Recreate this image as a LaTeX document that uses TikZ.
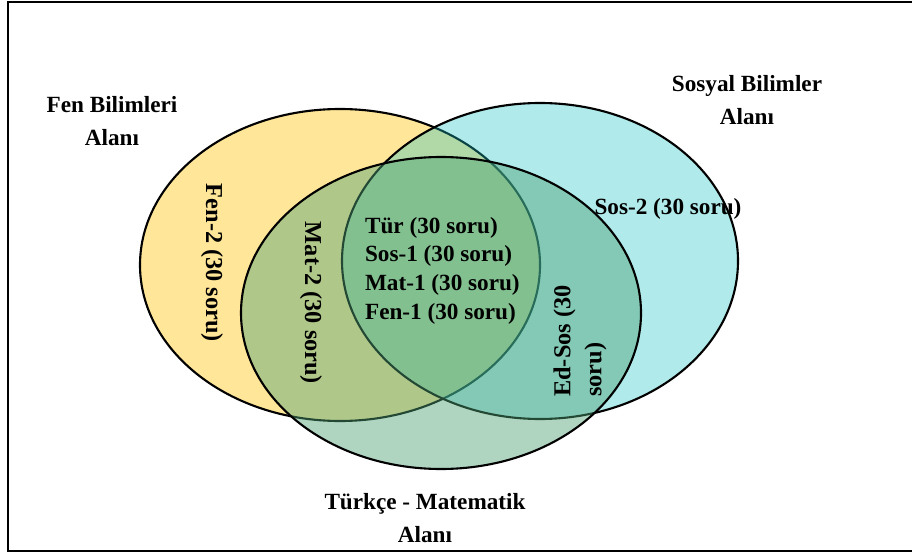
\documentclass[tikz,border=0pt]{standalone}
\usepackage{fontspec}
\setmainfont{Liberation Serif}
\definecolor{fenyellow}{RGB}{255,230,153}
\definecolor{sosblue}{RGB}{29,194,194}
\definecolor{tmgreen}{RGB}{78,162,118}
\tikzset{
  alanlbl/.style={font=\bfseries\fontsize{16.5}{23}\selectfont, align=center, inner sep=0pt},
  parcalbl/.style={font=\bfseries\fontsize{16.5}{20.5}\selectfont, inner sep=0pt},
  dikey/.style={font=\bfseries\fontsize{17.3}{22}\selectfont},
  venn/.style={draw=black, line width=1.5pt, fill opacity=#1}
}
\begin{document}
\begin{tikzpicture}
        \clip (0,0) rectangle (22.8,13.9);
        \draw[line width=2pt] (23.5,13.85) -- (0.2,13.85) -- (0.2,0.125) -- (23.5,0.125);

        % the three areas
        \draw[venn=1, fill=fenyellow] (8.5,7.275) ellipse (5 and 3.9);
        \draw[venn=0.35, fill=sosblue] (13.5,7.375) ellipse (4.95 and 3.95);
        \draw[venn=0.45, fill=tmgreen] (11.025,6.075) ellipse (5 and 3.9);

        \node[alanlbl] (fenalan) at (2.8,10.875) {Fen Bilimleri\\Alanı};
        \node[alanlbl] (sosalan) at (18.675,11.4) {Sosyal Bilimler\\Alanı};
        \node[alanlbl] (tmalan) at (10.625,0.95) {Türkçe - Matematik\\Alanı};

        \node[parcalbl, dikey, rotate=-90] (fen2) at (5.3,7.325) {Fen-2 (30 soru)};
        \node[parcalbl, dikey, rotate=-90] (mat2) at (7.775,6.325) {Mat-2 (30 soru)};
        \node[parcalbl, align=left] (ortak) at (11.06,7.13) {Tür (30 soru)\\Sos-1 (30 soru)\\Mat-1 (30 soru)\\Fen-1 (30 soru)};
        \node[parcalbl] (sos2) at (16.7,8.675) {Sos-2 (30 soru)};
        \node[parcalbl, dikey, rotate=90, align=left] (edsos) at (14.5,5.375) {Ed-Sos (30\\soru)};
\end{tikzpicture}
\end{document}
